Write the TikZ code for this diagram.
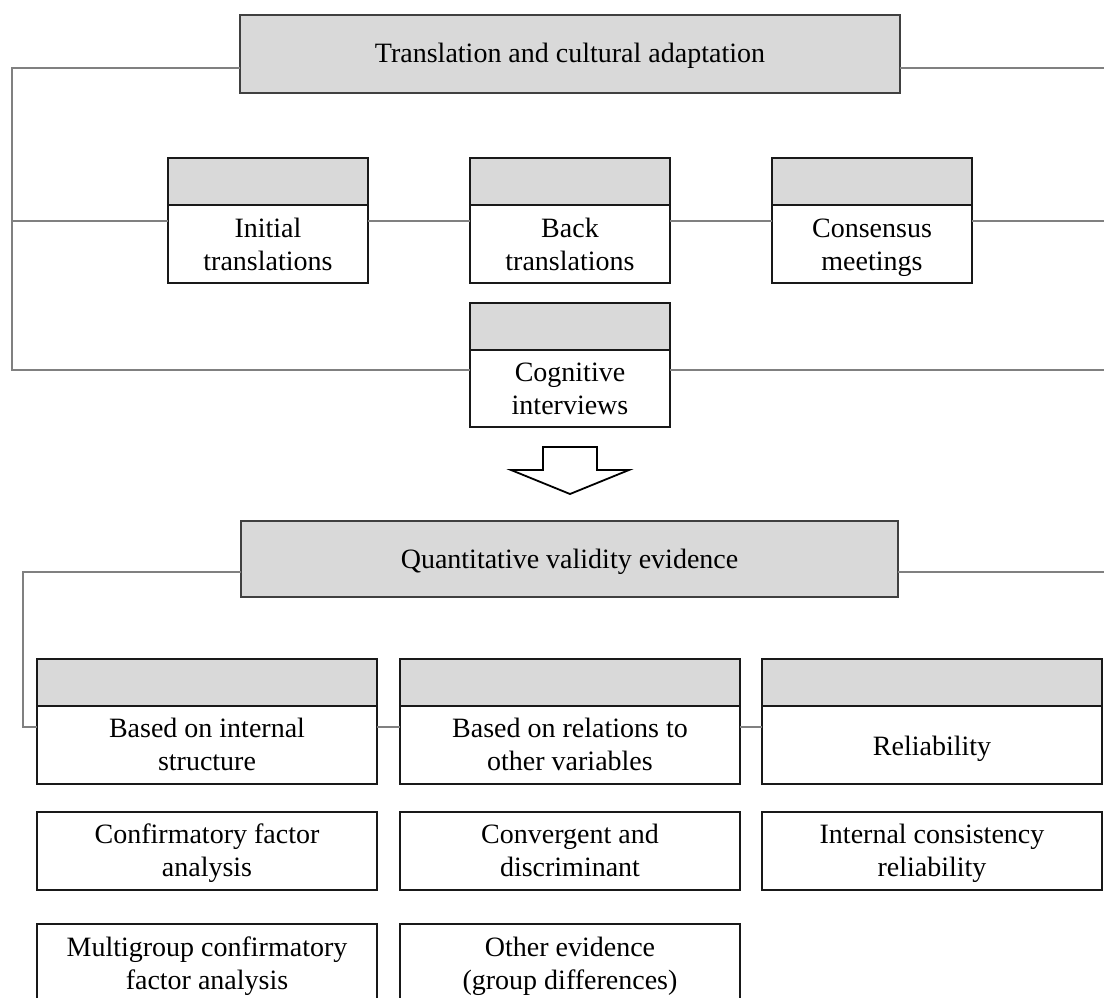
\documentclass[tikz,border=0pt]{standalone}
\usepackage{fontspec}
\setmainfont{Liberation Serif}
\usetikzlibrary{positioning}

\begin{document}
\begin{tikzpicture}[x=1pt, y=-1pt,
		every node/.style={font=\fontsize{28}{33}\selectfont, inner sep=0pt, outer sep=0pt, align=center},
		titlebox/.style={draw=black!75, line width=1.8pt, fill=black!15, minimum width=660pt, minimum height=78pt, text height=26pt, text depth=8pt},
		stepbody/.style={draw=black!90, line width=2pt, fill=white, minimum width=200pt, minimum height=78pt, text height=62pt, text depth=10pt},
		stephead/.style={draw=black!90, line width=2pt, fill=black!15, minimum width=200pt, minimum height=47pt, text height=0pt, text depth=0pt},
		wide/.style={minimum width=340pt},
		oneline/.style={text height=29pt, text depth=8pt},
		link/.style={draw=black!50, line width=1.8pt}]
		\useasboundingbox (0,0) rectangle (1104,998);

		% Translation stage
		\node[titlebox] (trans) at (570,54) {Translation and cultural adaptation};

		% Adaptation steps (white body with grey header on top)
		\node[stepbody] (init) at (268,244) {Initial\\translations};
		\node[stephead, above=0pt of init] (initH) {};
		\node[stepbody] (back) at (570,244) {Back\\translations};
		\node[stephead, above=0pt of back] (backH) {};
		\node[stepbody] (cons) at (872,244) {Consensus\\meetings};
		\node[stephead, above=0pt of cons] (consH) {};
		\node[stepbody, minimum height=77pt] (cog) at (570,388.5) {Cognitive\\interviews};
		\node[stephead, above=0pt of cog] (cogH) {};

		% Bracket of the translation stage
		\coordinate (tl) at (12,68);
		\coordinate (ml) at (12,221);
		\coordinate (bl) at (12,370);
		\coordinate (tr) at (1104,68);
		\coordinate (mr) at (1104,221);
		\coordinate (br) at (1104,370);
		\draw[link] ([yshift=-14pt]trans.west) -- (tl) -- (bl) -- (bl -| cog.west);
		\draw[link] ([yshift=-14pt]trans.east) -- (tr);
		\draw[link] (ml) -- (ml -| init.west);
		\draw[link] (ml -| init.east) -- (ml -| back.west);
		\draw[link] (ml -| back.east) -- (ml -| cons.west);
		\draw[link] (ml -| cons.east) -- (mr);
		\draw[link] (bl -| cog.east) -- (br);

		% Block arrow down
		\draw[line width=1.8pt] (543,447) -- (597,447) -- (597,470) -- (629,470) -- (570,494) -- (511,470) -- (543,470) -- cycle;

		% Validity stage
		\node[titlebox, minimum width=657pt, minimum height=76pt] (quant) at (569.5,559) {Quantitative validity evidence};

		% Sources of evidence
		\node[stepbody, wide] (intl) at (207,744.5) {Based on internal\\structure};
		\node[stephead, wide, above=0pt of intl] (intlH) {};
		\node[stepbody, wide] (rel) at (570,744.5) {Based on relations to\\other variables};
		\node[stephead, wide, above=0pt of rel] (relH) {};
		\node[stepbody, wide, oneline] (relia) at (932,744.5) {Reliability};
		\node[stephead, wide, above=0pt of relia] (reliaH) {};

		% Analyses under each source
		\node[stepbody, wide] (cfa) at (207,850.5) {Confirmatory factor\\analysis};
		\node[stepbody, wide] (conv) at (570,850.5) {Convergent and\\discriminant};
		\node[stepbody, wide] (icr) at (932,850.5) {Internal consistency\\reliability};
		\node[stepbody, wide] (mgcfa) at (207,963) {Multigroup confirmatory\\factor analysis};
		\node[stepbody, wide] (other) at (570,963) {Other evidence\\(group differences)};

		% Bracket of the validity stage
		\coordinate (ql) at (23,572);
		\coordinate (qbl) at (23,727);
		\coordinate (qr) at (1104,572);
		\draw[link] ([yshift=-13pt]quant.west) -- (ql) -- (qbl) -- (qbl -| intl.west);
		\draw[link] ([yshift=-13pt]quant.east) -- (qr);
		\draw[link] (qbl -| intl.east) -- (qbl -| rel.west);
		\draw[link] (qbl -| rel.east) -- (qbl -| relia.west);
	\end{tikzpicture}
\end{document}
